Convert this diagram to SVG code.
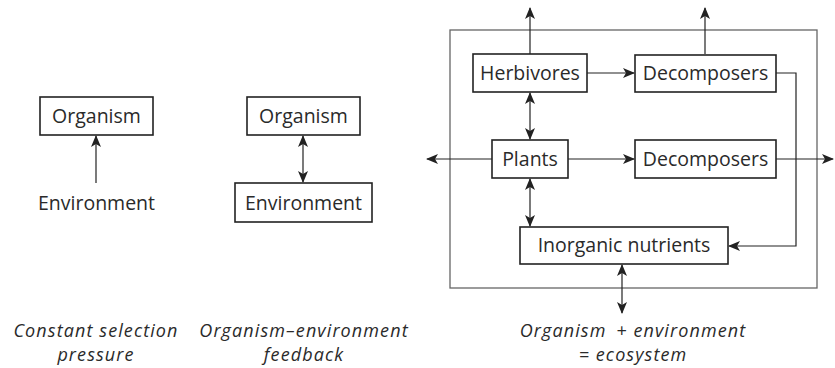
<svg xmlns="http://www.w3.org/2000/svg" width="835" height="368" viewBox="0 0 835 368">
<style>
.box{fill:#fff;stroke:#222;stroke-width:1.6}
.frame{fill:none;stroke:#666;stroke-width:1.3}
.lbl{font-family:"Open Sans","Liberation Sans",sans-serif;font-size:19.5px;fill:#2a2a2a;text-anchor:middle}
.cap{font-family:"Open Sans","Liberation Sans",sans-serif;font-size:18px;font-style:italic;letter-spacing:1.1px;fill:#2a2a2a;text-anchor:middle}
.ln{fill:none;stroke:#222;stroke-width:1.2}
</style>
<defs>
<marker id="ah" viewBox="0 0 12 10" refX="11" refY="5" markerWidth="12" markerHeight="10" markerUnits="userSpaceOnUse" orient="auto-start-reverse">
<path d="M0,0 L12,5 L0,10 L3,5 Z" fill="#222"/>
</marker>
</defs>
<rect class="frame" x="450" y="30" width="367" height="258"/>
<g id="connectors">
<line class="ln" x1="96" y1="183" x2="96" y2="136" marker-end="url(#ah)"/>
<line class="ln" x1="303" y1="136" x2="303" y2="182" marker-start="url(#ah)" marker-end="url(#ah)"/>
<line class="ln" x1="530" y1="54" x2="530" y2="8" marker-end="url(#ah)"/>
<line class="ln" x1="705" y1="54" x2="705" y2="8" marker-end="url(#ah)"/>
<line class="ln" x1="587" y1="73" x2="634" y2="73" marker-end="url(#ah)"/>
<polyline class="ln" points="776,73 796,73 796,246 729,246" marker-end="url(#ah)"/>
<line class="ln" x1="530" y1="93" x2="530" y2="139" marker-start="url(#ah)" marker-end="url(#ah)"/>
<line class="ln" x1="568" y1="159" x2="634" y2="159" marker-end="url(#ah)"/>
<line class="ln" x1="492" y1="159" x2="427" y2="159" marker-end="url(#ah)"/>
<line class="ln" x1="776" y1="159" x2="833" y2="159" marker-end="url(#ah)"/>
<line class="ln" x1="530" y1="179" x2="530" y2="226" marker-start="url(#ah)" marker-end="url(#ah)"/>
<line class="ln" x1="622" y1="265" x2="622" y2="313" marker-start="url(#ah)" marker-end="url(#ah)"/>
</g>
<g id="organism1"><rect class="box" x="40" y="97" width="113" height="38"/><text class="lbl" x="96.5" y="123">Organism</text></g>
<g id="environment1"><text class="lbl" x="96.5" y="210">Environment</text></g>
<g id="organism2"><rect class="box" x="247" y="97" width="113" height="38"/><text class="lbl" x="303.5" y="123">Organism</text></g>
<g id="environment2"><rect class="box" x="235" y="183" width="137" height="39"/><text class="lbl" x="303.5" y="209.5">Environment</text></g>
<g id="herbivores"><rect class="box" x="473" y="54" width="114" height="38"/><text class="lbl" x="530" y="80">Herbivores</text></g>
<g id="decomposers1"><rect class="box" x="635" y="55" width="141" height="37"/><text class="lbl" x="705.5" y="80">Decomposers</text></g>
<g id="plants"><rect class="box" x="492" y="140" width="76" height="38"/><text class="lbl" x="530" y="166">Plants</text></g>
<g id="decomposers2"><rect class="box" x="635" y="140" width="141" height="38"/><text class="lbl" x="705.5" y="166">Decomposers</text></g>
<g id="nutrients"><rect class="box" x="520" y="227" width="208" height="37"/><text class="lbl" x="624" y="252">Inorganic nutrients</text></g>
<g id="captions">
<text class="cap" x="96" y="337">Constant selection</text>
<text class="cap" x="96" y="361">pressure</text>
<text class="cap" x="304" y="337">Organism–environment</text>
<text class="cap" x="304" y="361">feedback</text>
<text class="cap" x="633" y="337">Organism <tspan dx="4">+</tspan> environment</text>
<text class="cap" x="633" y="361">= ecosystem</text>
</g>
</svg>
